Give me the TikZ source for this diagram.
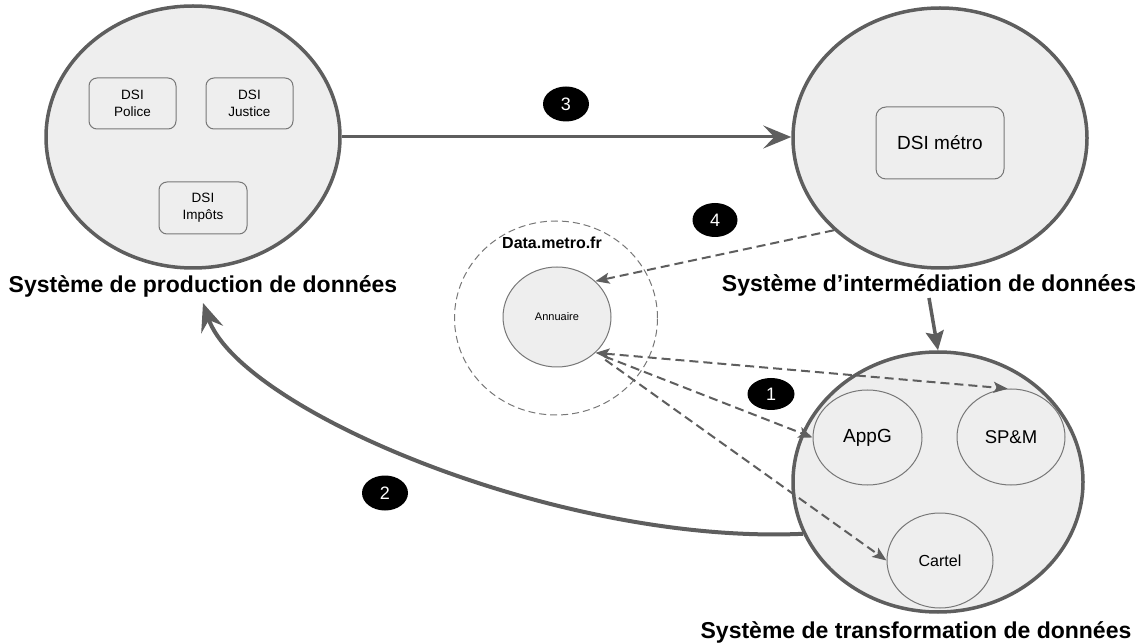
\documentclass[tikz,border=0pt]{standalone}
\usepackage{fontspec}
\setmainfont{Liberation Sans}
\usetikzlibrary{shapes.geometric,arrows.meta}
\definecolor{edge}{HTML}{5E5E5E}
\definecolor{fillg}{HTML}{EEEEEE}
\definecolor{thin}{HTML}{777777}
\begin{document}
\begin{tikzpicture}[x=1pt,y=-1pt,
  bigell/.style={ellipse, draw=edge, line width=3.5pt, fill=fillg, inner sep=0pt},
  smallell/.style={ellipse, draw=thin, line width=1pt, fill=fillg, inner sep=0pt},
  dsibox/.style={rectangle, rounded corners=8pt, draw=thin, line width=1pt, fill=fillg, align=center, inner sep=0pt, font=\fontsize{13.5}{17}\selectfont},
  badge/.style={ellipse, fill=black, text=white, inner sep=0pt, font=\fontsize{18}{18}\selectfont},
  biglabel/.style={font=\fontsize{23}{27}\selectfont\bfseries, inner sep=1pt, anchor=base},
  flow/.style={draw=edge, line width=3pt, -{Stealth[length=28pt,width=23pt,inset=11pt]}},
  dflow/.style={draw=edge, line width=2pt, dash pattern=on 9pt off 5pt, -{Stealth[length=14pt,width=11pt,inset=3pt]}}
]
\useasboundingbox (0,0) rectangle (1136,644);

% big ellipses
\node[bigell, minimum width=294pt, minimum height=262pt] (prod) at (193,137) {};
\node[bigell, minimum width=294pt, minimum height=260pt] (inter) at (940,138) {};
\node[bigell, minimum width=290pt, minimum height=260pt] (trans) at (938,482) {};

% production boxes
\node[dsibox, minimum width=87pt, minimum height=51pt] (police) at (132.5,103.5) {DSI\\Police};
\node[dsibox, minimum width=87pt, minimum height=51pt] (justice) at (249.5,103.5) {DSI\\Justice};
\node[dsibox, minimum width=88pt, minimum height=52pt] (impots) at (203,208) {DSI\\Impôts};

% intermediation box
\node[dsibox, rounded corners=10pt, minimum width=128pt, minimum height=72pt, font=\fontsize{19}{23}\selectfont] (metro) at (940,143) {DSI métro};

% data.metro.fr
\node[ellipse, draw=thin, line width=1pt, dash pattern=on 7pt off 4pt, minimum width=203pt, minimum height=194pt, inner sep=0pt] (datam) at (556,318) {};
\node[font=\fontsize{16}{16}\selectfont\bfseries, anchor=base, inner sep=0pt] (datalabel) at (552,249) {Data.metro.fr};
\node[smallell, minimum width=108pt, minimum height=100pt, font=\fontsize{11}{11}\selectfont] (ann) at (557,317) {Annuaire};

% transformation circles
\node[smallell, minimum width=109pt, minimum height=95pt, font=\fontsize{19}{19}\selectfont] (appg) at (867.5,437.5) {AppG};
\node[smallell, minimum width=108pt, minimum height=96pt, font=\fontsize{18.5}{18.5}\selectfont] (spm) at (1011,437) {SP\&M};
\node[smallell, minimum width=106pt, minimum height=95pt, font=\fontsize{16}{16}\selectfont] (cartel) at (940,560.5) {Cartel};

% labels
\node[biglabel] (prodlabel) at (203,293) {Système de production de données};
\node[biglabel] (intlabel) at (929,292) {Système d’intermédiation de données};
\node[biglabel] (translabel) at (916,638) {Système de transformation de données};

% badges
\node[badge, minimum width=46pt, minimum height=35pt] (b3) at (566,104) {3};
\node[badge, minimum width=45pt, minimum height=34pt] (b4) at (715,220) {4};
\node[badge, minimum width=47pt, minimum height=32pt] (b1) at (771,394) {1};
\node[badge, minimum width=46pt, minimum height=35pt] (b2) at (385,493) {2};

% connectors
\draw[flow] (prod.east) -- (prod.east -| inter.west);
\draw[dflow] (inter.221) -- (ann.43);
\draw[dflow, {Stealth[length=14pt,width=11pt,inset=3pt]}-{Stealth[length=14pt,width=11pt,inset=3pt]}] (ann.-43) -- (spm.94);
\draw[dflow, shorten <=10pt] (ann.-43) -- (appg.west);
\draw[dflow, shorten <=12pt] (ann.-43) -- (cartel.west);
\draw[draw=edge, line width=3.5pt, -{Stealth[length=19pt,width=18pt,inset=3pt]}] (intlabel.south) -- (trans.north);
\draw[draw=edge, line width=4pt, -{Stealth[length=28pt,width=23pt,inset=10pt]}] (trans.201) .. controls (560,545) and (240,410) .. ([yshift=-4pt]prodlabel.south);
\end{tikzpicture}
\end{document}
